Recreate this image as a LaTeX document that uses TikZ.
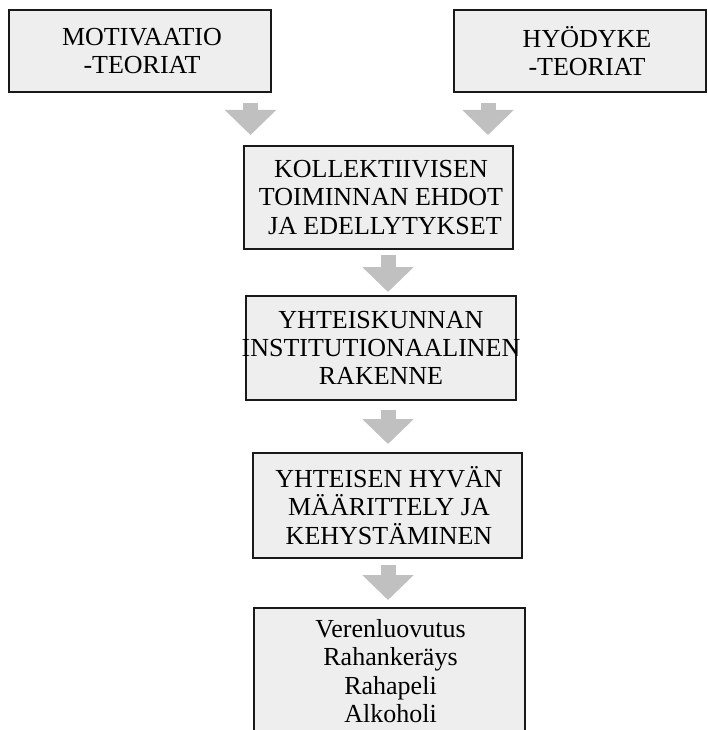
\documentclass[tikz,border=0pt]{standalone}
\usepackage{fontspec}
\setmainfont{Liberation Serif}
\usepackage{tikz}
\usetikzlibrary{positioning, arrows.meta}
\definecolor{boxgray}{HTML}{EEEEEE}
\definecolor{arrowgray}{HTML}{C0C0C0}
\tikzset{flowarr/.style={draw=arrowgray, line width=15pt, -{Triangle[width=50pt,length=25pt]}}}

\begin{document}
\begin{tikzpicture}[x=1pt, y=-1pt,
    box/.style 2 args={draw=black!90, line width=2pt, fill=boxgray, minimum width=#1, minimum height=#2, inner sep=0pt},
    lbl/.style={align=center, font=\fontsize{26}{28.3}\selectfont, inner sep=0pt}]
            \useasboundingbox (0,0) rectangle (708,730);
            \clip (0,0) rectangle (708,730);

            \node [box={262pt}{82pt}] (motiv) at (140,51) {};
            \node [box={252pt}{82pt}] (hyod) at (580,51) {};
            \node [box={269pt}{103pt}] (koll) at (378.5,197.5) {};
            \node [box={270pt}{104pt}] (inst) at (381,348) {};
            \node [box={269pt}{105pt}] (hyva) at (387.5,505.5) {};
            \node [box={271pt}{140pt}] (ala) at (389.5,678) {};

            \node [lbl] (tmotiv) at (142,51) {MOTIVAATIO\\-TEORIAT};
            \node [lbl] (thyod) at (587,51) {HYÖDYKE\\-TEORIAT};
            \node [lbl] (tkoll) at (381,197.5) {KOLLEKTIIVISEN\\TOIMINNAN EHDOT\\\hspace{0.3em}JA EDELLYTYKSET};
            \node [lbl] (tinst) at (381,348) {YHTEISKUNNAN\\INSTITUTIONAALINEN\\RAKENNE};
            \node [lbl] (thyva) at (389,505.5) {YHTEISEN HYVÄN\\MÄÄRITTELY JA\\KEHYSTÄMINEN};
            \node [lbl] (tala) at (390.5,671) {Verenluovutus\\Rahankeräys\\Rahapeli\\Alkoholi};

            \coordinate (x1) at (250.5,0);
            \coordinate (x2) at (488,0);
            \coordinate (x3) at (388,0);

            \draw[flowarr, shorten <=10pt, shorten >=10pt] (motiv.south -| x1) -- (koll.north -| x1);
            \draw[flowarr, shorten <=10pt, shorten >=10pt] (hyod.south -| x2) -- (koll.north -| x2);
            \draw[flowarr, shorten <=5pt, shorten >=3pt] (koll.south -| x3) -- (inst.north -| x3);
            \draw[flowarr, shorten <=9pt, shorten >=8pt] (inst.south -| x3) -- (hyva.north -| x3);
            \draw[flowarr, shorten <=6pt, shorten >=7pt] (hyva.south -| x3) -- (ala.north -| x3);
        \end{tikzpicture}
\end{document}
